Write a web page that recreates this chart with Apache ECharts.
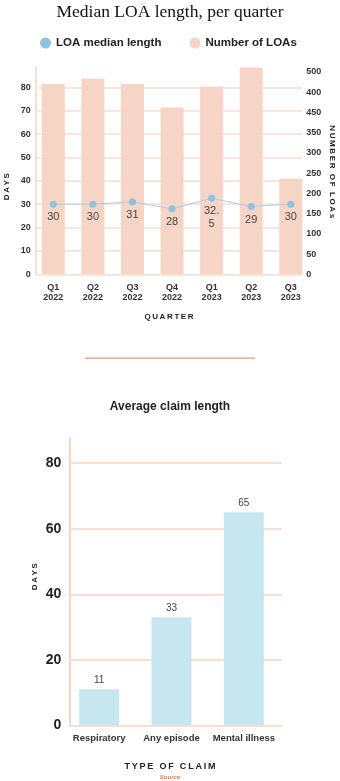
<!DOCTYPE html>
<html>
<head>
<meta charset="utf-8">
<script src="https://cdn.jsdelivr.net/npm/echarts@6/dist/echarts.min.js"></script>
<style>
  html, body { margin: 0; padding: 0; background: #ffffff; }
  #chart { width: 340px; height: 781px; }
</style>
</head>
<body>
<div id="chart"></div>
<script>
// Median LOA length per quarter
const quarters = ['Q1\n2022', 'Q2\n2022', 'Q3\n2022', 'Q4\n2022', 'Q1\n2023', 'Q2\n2023', 'Q3\n2023'];
const medianDays = [30, 30, 31, 28, 32.5, 29, 30];
const loaCounts = [470, 483, 470, 412, 464, 511, 236];
const loaTickLabels = ['0', '50', '100', '150', '200', '250', '300', '350', '450', '400', '500'];

// Average claim length by claim type
const claimTypes = ['Respiratory', 'Any episode', 'Mental illness'];
const claimDays = [11, 33, 65];

const SANS = '"Liberation Sans", Arial, sans-serif';
const GRID_PINK = '#fbddd1';
const AXIS_PINK = '#f8d4c6';

const spaced = s => s.split('').join('\u2009');

const chart = echarts.init(document.getElementById('chart'), null, { renderer: 'canvas' });

const option = {
  animation: false,
  backgroundColor: '#ffffff',
  title: [
    {
      text: 'Median LOA length, per quarter',
      left: 'center', top: -2,
      textStyle: { fontFamily: '"Liberation Serif", "DejaVu Serif", serif', fontSize: 17.5, fontWeight: 'normal', color: '#111' }
    },
    {
      text: 'Average claim length',
      left: 'center', top: 396,
      textStyle: { fontFamily: SANS, fontSize: 12, fontWeight: 'bold', color: '#222' }
    }
  ],
  legend: {
    left: 35, top: 32,
    icon: 'circle', itemWidth: 11, itemHeight: 11, itemGap: 28,
    textStyle: { fontFamily: SANS, fontSize: 11.5, fontWeight: 'bold', color: '#222' },
    data: ['LOA median length', 'Number of LOAs']
  },
  grid: [
    // frame for the quarterly axes and grid lines
    { left: 35.7, right: 37.7, top: 66.7, height: 207.6 },
    // plotting area for the quarterly bars and line
    { left: 33.5, right: 29.4, top: 66.7, height: 207.6 },
    // frame for the claim-length axis and grid lines
    { left: 69.3, right: 58, top: 438, height: 287.3 },
    // plotting area for the claim-length bars
    { left: 63, right: 60, top: 438, height: 287.3 }
  ],
  xAxis: [
    { gridIndex: 0, type: 'category', data: quarters, show: false },
    {
      gridIndex: 1, type: 'category', data: quarters,
      axisLine: { show: false }, axisTick: { show: false },
      axisLabel: { interval: 0, fontFamily: SANS, fontSize: 9, fontWeight: 'bold', color: '#333', lineHeight: 10, margin: 8 }
    },
    { gridIndex: 2, type: 'category', data: claimTypes, show: false },
    {
      gridIndex: 3, type: 'category', data: claimTypes,
      axisLine: { show: false }, axisTick: { show: false },
      axisLabel: { interval: 0, hideOverlap: false, fontFamily: SANS, fontSize: 9.5, fontWeight: 'bold', color: '#333', margin: 8 }
    }
  ],
  yAxis: [
    {
      gridIndex: 0, type: 'value', min: 0, max: 88.8, interval: 10,
      axisLine: { show: true, lineStyle: { color: AXIS_PINK, width: 1.5 } },
      axisTick: { show: false },
      axisLabel: {
        fontFamily: SANS, fontSize: 9, fontWeight: 'bold', color: '#333', margin: 5,
        formatter: v => (v % 10 === 0 ? String(v) : '')
      },
      splitLine: { show: true, showMaxLine: false, lineStyle: { color: GRID_PINK, width: 1.5 } }
    },
    {
      gridIndex: 0, type: 'value', position: 'right', min: 0, max: 513, interval: 50,
      axisLine: { show: false }, axisTick: { show: false }, splitLine: { show: false },
      axisLabel: {
        fontFamily: SANS, fontSize: 9, fontWeight: 'bold', color: '#333', margin: 4,
        formatter: v => (v % 50 === 0 && loaTickLabels[v / 50] !== undefined ? loaTickLabels[v / 50] : '')
      }
    },
    { gridIndex: 1, type: 'value', min: 0, max: 88.8, show: false },
    { gridIndex: 1, type: 'value', min: 0, max: 513, show: false },
    {
      gridIndex: 2, type: 'value', min: 0, max: 87.7, interval: 20,
      axisLine: { show: true, lineStyle: { color: AXIS_PINK, width: 2 } },
      axisTick: { show: false },
      axisLabel: {
        fontFamily: SANS, fontSize: 14, fontWeight: 'bold', color: '#222', margin: 8,
        formatter: v => (v % 20 === 0 ? String(v) : '')
      },
      splitLine: { show: true, showMaxLine: false, lineStyle: { color: GRID_PINK, width: 2 } }
    },
    { gridIndex: 3, type: 'value', min: 0, max: 87.7, show: false }
  ],
  series: [
    {
      name: 'Number of LOAs', type: 'bar',
      xAxisIndex: 1, yAxisIndex: 3,
      data: loaCounts, barWidth: 23,
      itemStyle: { color: '#f6d4c6' },
      z: 2
    },
    {
      name: 'LOA median length', type: 'line',
      xAxisIndex: 1, yAxisIndex: 2,
      data: medianDays,
      symbol: 'circle', symbolSize: 7,
      itemStyle: { color: '#8fc2de' },
      lineStyle: { color: '#a9d0e5', width: 1 },
      label: {
        show: true, position: 'bottom', distance: 3,
        fontFamily: SANS, fontSize: 11, color: '#444', lineHeight: 13,
        width: 17, overflow: 'breakAll'
      },
      z: 3
    },
    {
      name: 'Average claim length', type: 'bar',
      xAxisIndex: 3, yAxisIndex: 5,
      data: claimDays, barWidth: 40,
      itemStyle: { color: '#c6e6f0' },
      label: { show: true, position: 'top', distance: 4, fontFamily: SANS, fontSize: 10, color: '#444' },
      z: 2
    }
  ],
  graphic: [
    {
      type: 'text', x: 7, y: 186.7, rotation: Math.PI / 2,
      style: { text: spaced('DAYS'), fill: '#222', font: 'bold 8px ' + SANS, align: 'center', verticalAlign: 'middle' }
    },
    {
      type: 'text', x: 332, y: 171.7, rotation: -Math.PI / 2,
      style: { text: spaced('NUMBER OF LOAs'), fill: '#222', font: 'bold 8px ' + SANS, align: 'center', verticalAlign: 'middle' }
    },
    {
      type: 'text', x: 169, y: 316.7,
      style: { text: spaced('QUARTER'), fill: '#222', font: 'bold 8px ' + SANS, align: 'center', verticalAlign: 'middle' }
    },
    {
      type: 'line', shape: { x1: 85, y1: 358.3, x2: 255, y2: 358.3 },
      style: { stroke: '#f1a98a', lineWidth: 1.5 }
    },
    {
      type: 'text', x: 35, y: 576.7, rotation: Math.PI / 2,
      style: { text: spaced('DAYS'), fill: '#222', font: 'bold 8px ' + SANS, align: 'center', verticalAlign: 'middle' }
    },
    {
      type: 'text', x: 170, y: 767,
      style: { text: spaced('TYPE OF CLAIM'), fill: '#222', font: 'bold 9px ' + SANS, align: 'center', verticalAlign: 'middle' }
    },
    {
      type: 'text', x: 170, y: 777.5,
      style: { text: 'Source', fill: '#e8784f', font: 'italic bold 6px ' + SANS, align: 'center', verticalAlign: 'middle' }
    }
  ]
};

chart.setOption(option);
</script>
</body>
</html>
